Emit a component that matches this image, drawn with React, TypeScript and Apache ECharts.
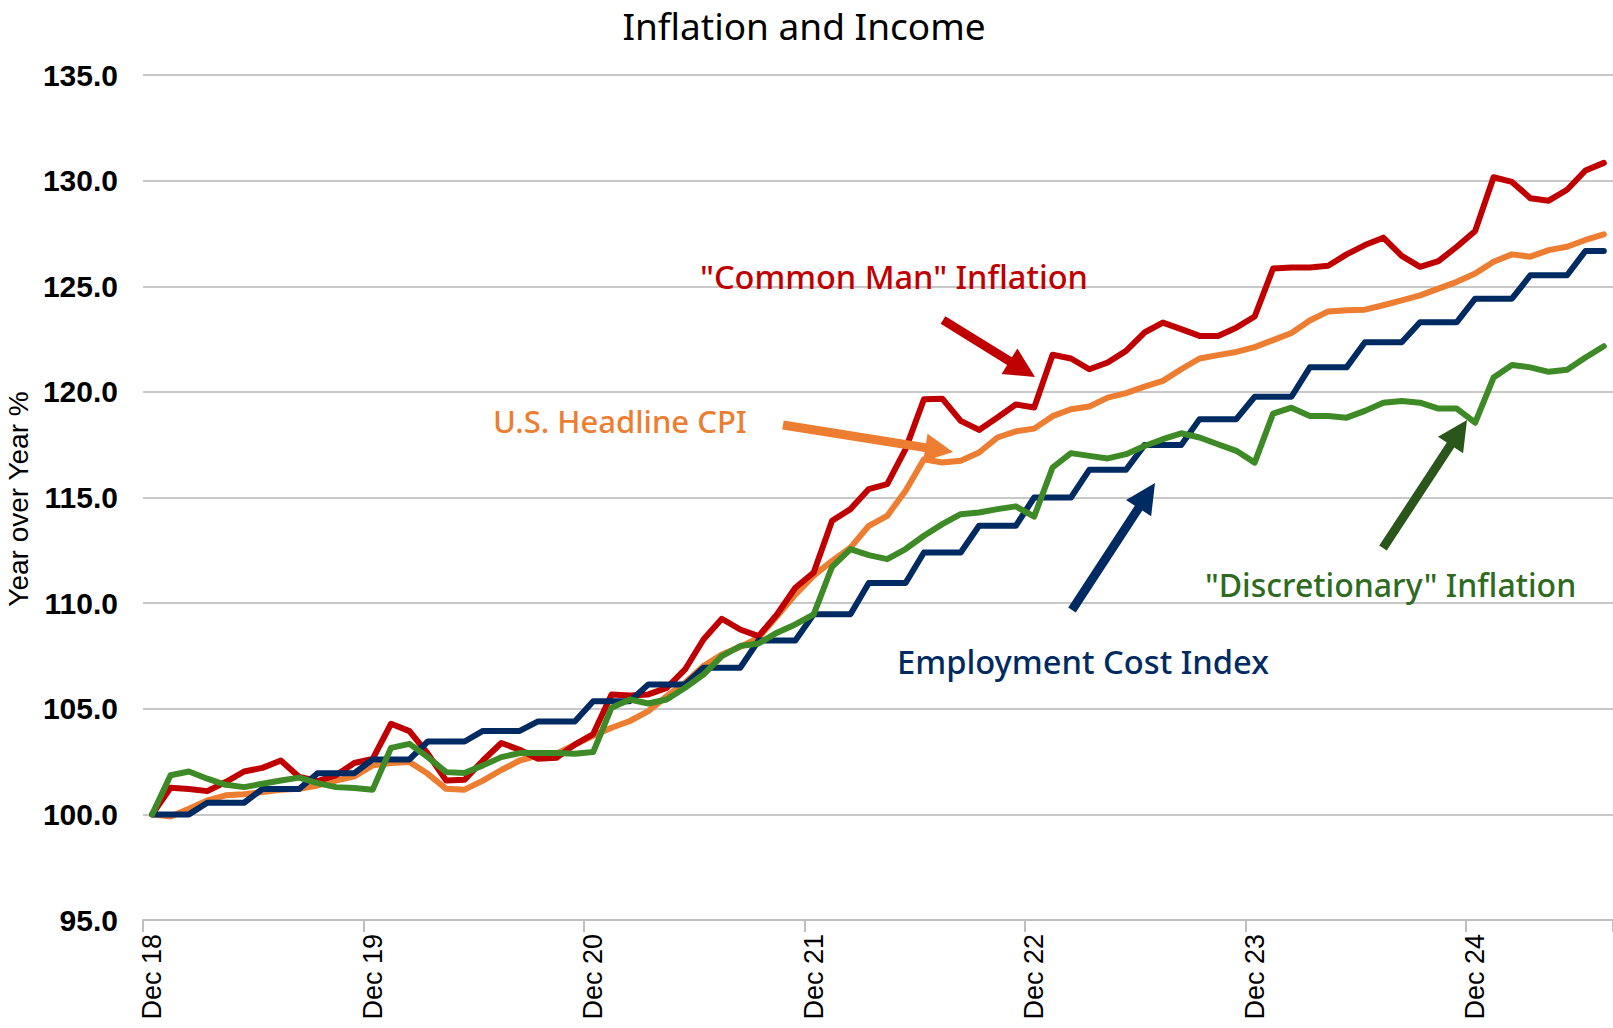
import React, { useEffect, useRef } from "react";
import * as echarts from "echarts";

// ---------- DATA ----------
const MONTH_NAMES = ["Jan", "Feb", "Mar", "Apr", "May", "Jun", "Jul", "Aug", "Sep", "Oct", "Nov", "Dec"];
// Dec 2018 .. Jul 2025, monthly
const START_YEAR = 2018;
const START_MONTH = 11; // Dec
const N_MONTHS = 80;
const categories: string[] = [];
for (let i = 0; i < N_MONTHS; i++) {
  const m = (START_MONTH + i) % 12;
  const y = START_YEAR + Math.floor((START_MONTH + i) / 12);
  categories.push(`${MONTH_NAMES[m]} ${String(y).slice(2)}`);
}

const yTicks = [95, 100, 105, 110, 115, 120, 125, 130, 135];

const commonMan = [
  100.0, 101.26, 101.2, 101.1, 101.53, 102.03, 102.2, 102.55, 101.77, 101.58, 101.85, 102.43,
  102.63, 104.29, 103.94, 102.87, 101.6, 101.64, 102.55, 103.38, 103.06, 102.63, 102.68, 103.3,
  103.8, 105.68, 105.63, 105.68, 105.99, 106.86, 108.28, 109.26, 108.75, 108.44, 109.46, 110.73,
  111.45, 113.9, 114.45, 115.4, 115.63, 117.29, 119.65, 119.68, 118.63, 118.2, 118.79, 119.4,
  119.26, 121.76, 121.58, 121.07, 121.39, 121.94, 122.81, 123.28, 122.97, 122.65, 122.65, 123.04,
  123.57, 125.84, 125.89, 125.89, 125.97, 126.51, 126.95, 127.3, 126.44, 125.92, 126.19, 126.87,
  127.62, 130.16, 129.94, 129.17, 129.05, 129.57, 130.48, 130.84,
];

const headlineCPI = [
  100.0, 99.9, 100.27, 100.66, 100.9, 100.95, 101.06, 101.17, 101.21, 101.37, 101.6, 101.8,
  102.32, 102.43, 102.48, 101.92, 101.21, 101.17, 101.6, 102.1, 102.55, 102.79, 102.87, 103.3,
  103.72, 104.1, 104.42, 104.89, 105.6, 106.23, 107.02, 107.57, 107.93, 108.36, 109.38, 110.4,
  111.3, 112.0, 112.63, 113.66, 114.13, 115.32, 116.81, 116.66, 116.74, 117.13, 117.84, 118.13,
  118.26, 118.85, 119.18, 119.31, 119.73, 119.94, 120.25, 120.52, 121.07, 121.58, 121.74, 121.89,
  122.12, 122.45, 122.79, 123.38, 123.81, 123.86, 123.89, 124.1, 124.33, 124.57, 124.89, 125.21,
  125.6, 126.16, 126.51, 126.4, 126.71, 126.87, 127.19, 127.46,
];

const employmentCost = [
  100.0, 100.0, 100.0, 100.55, 100.55, 100.55, 101.2, 101.2, 101.2, 101.95, 101.95, 101.95,
  102.6, 102.6, 102.6, 103.45, 103.45, 103.45, 103.95, 103.95, 103.95, 104.4, 104.4, 104.4,
  105.36, 105.36, 105.36, 106.15, 106.15, 106.15, 106.94, 106.94, 106.94, 108.23, 108.23, 108.23,
  109.47, 109.47, 109.47, 110.95, 110.95, 110.95, 112.4, 112.4, 112.4, 113.66, 113.66, 113.66,
  115.0, 115.0, 115.0, 116.31, 116.31, 116.31, 117.48, 117.48, 117.48, 118.71, 118.71, 118.71,
  119.77, 119.77, 119.77, 121.16, 121.16, 121.16, 122.35, 122.35, 122.35, 123.3, 123.3, 123.3,
  124.41, 124.41, 124.41, 125.52, 125.52, 125.52, 126.67, 126.67,
];

const discretionary = [
  100.0, 101.85, 102.03, 101.69, 101.4, 101.29, 101.45, 101.6, 101.74, 101.48, 101.29, 101.25,
  101.17, 103.15, 103.34, 102.71, 102.0, 101.96, 102.32, 102.71, 102.9, 102.9, 102.9, 102.87,
  102.95, 105.05, 105.44, 105.25, 105.44, 105.99, 106.62, 107.49, 107.97, 108.09, 108.6, 108.99,
  109.47, 111.72, 112.56, 112.27, 112.08, 112.56, 113.19, 113.74, 114.21, 114.29, 114.45, 114.58,
  114.1, 116.42, 117.1, 116.97, 116.85, 117.05, 117.44, 117.76, 118.04, 117.84, 117.52, 117.21,
  116.65, 118.97, 119.25, 118.86, 118.86, 118.78, 119.1, 119.49, 119.57, 119.49, 119.21, 119.21,
  118.54, 120.68, 121.27, 121.16, 120.95, 121.05, 121.63, 122.16,
];

const seriesNames = ['"Common Man" Inflation', "U.S. Headline CPI", "Employment Cost Index", '"Discretionary" Inflation'];

// ---------- STYLE ----------
const RED = "#C00000";
const ORANGE = "#ED7D31";
const NAVY = "#002B62";
const GREEN = "#3E8A27";
const GREEN_TEXT = "#2F6B1F";
const GREEN_ARROW = "#2B561B";
const ANN_FONT = "'Noto Sans', 'Open Sans', sans-serif";

function arrowPolygon(x1: number, y1: number, x2: number, y2: number, shaft: number, headLen: number, headHalf: number) {
  const dx = x2 - x1;
  const dy = y2 - y1;
  const len = Math.hypot(dx, dy);
  const ux = dx / len;
  const uy = dy / len;
  const px = -uy;
  const py = ux;
  const bx = x2 - ux * headLen;
  const by = y2 - uy * headLen;
  const s = shaft / 2;
  return [
    [x1 + px * s, y1 + py * s],
    [bx + px * s, by + py * s],
    [bx + px * headHalf, by + py * headHalf],
    [x2, y2],
    [bx - px * headHalf, by - py * headHalf],
    [bx - px * s, by - py * s],
    [x1 - px * s, y1 - py * s],
  ];
}

function textEl(text: string, x: number, y: number, color: string, size: number, align = "left", extra: any = {}) {
  return {
    type: "text",
    x,
    y,
    z: 100,
    ...extra,
    style: {
      text,
      fill: color,
      fontSize: size,
      fontFamily: ANN_FONT,
      fontWeight: 500,
      align,
      textAlign: align,
      verticalAlign: "middle",
      textVerticalAlign: "middle",
    },
  };
}

export default function App() {
  const ref = useRef<HTMLDivElement>(null);

  useEffect(() => {
    if (!ref.current) return;
    const chart = echarts.init(ref.current, undefined, { renderer: "svg" });

    const arrows = [
      { pts: arrowPolygon(943, 320, 1035, 377, 9, 30, 15), color: RED },
      { pts: arrowPolygon(783, 425, 953, 452, 9, 28, 14), color: ORANGE },
      { pts: arrowPolygon(1072, 610, 1155, 483, 9, 30, 15), color: NAVY },
      { pts: arrowPolygon(1383, 548, 1467, 420, 9, 30, 15), color: GREEN_ARROW },
    ];

    const mkLine = (name: string, data: number[], color: string, z: number) => ({
      name,
      type: "line",
      data,
      symbol: "none",
      smooth: false,
      z,
      lineStyle: { color, width: 6, cap: "round", join: "round" },
      itemStyle: { color },
    });

    chart.setOption({
      animation: false,
      backgroundColor: "#ffffff",
      grid: { left: 143, right: 0, top: 75, bottom: 108, containLabel: false },
      xAxis: {
        type: "category",
        data: categories,
        boundaryGap: true,
        axisLine: { show: true, lineStyle: { color: "#BFBFBF", width: 2 } },
        axisTick: {
          show: true,
          interval: (idx: number) => idx % 12 === 0,
          length: 12,
          lineStyle: { color: "#BFBFBF", width: 2 },
        },
        axisLabel: {
          interval: (idx: number) => idx % 12 === 0,
          rotate: 90,
          margin: 14,
          color: "#000",
          fontSize: 27,
          fontFamily: "'Liberation Sans', Arial, sans-serif",
        },
        splitLine: { show: false },
      },
      yAxis: {
        type: "value",
        min: yTicks[0],
        max: yTicks[yTicks.length - 1],
        interval: 5,
        axisLine: { show: false },
        axisTick: { show: false },
        axisLabel: {
          formatter: (v: number) => v.toFixed(1),
          margin: 25,
          color: "#000",
          fontSize: 30,
          fontWeight: "bold",
          fontFamily: "'Liberation Sans', Arial, sans-serif",
        },
        splitLine: { show: true, lineStyle: { color: "#C8C8C8", width: 2 } },
      },
      series: [
        mkLine(seriesNames[1], headlineCPI, ORANGE, 2),
        mkLine(seriesNames[0], commonMan, RED, 3),
        mkLine(seriesNames[2], employmentCost, NAVY, 4),
        mkLine(seriesNames[3], discretionary, GREEN, 5),
      ],
      graphic: [
        {
          type: "text",
          x: 804,
          y: 25,
          z: 100,
          style: {
            text: "Inflation and Income",
            fill: "#000",
            fontSize: 37,
            fontFamily: ANN_FONT,
            align: "center",
            textAlign: "center",
            verticalAlign: "middle",
            textVerticalAlign: "middle",
          },
        },
        {
          type: "text",
          x: 18,
          y: 499,
          rotation: Math.PI / 2,
          z: 100,
          style: {
            text: "Year over Year %",
            fill: "#000",
            fontSize: 28,
            fontFamily: "'Liberation Sans Narrow', 'Liberation Sans', Arial, sans-serif",
            align: "center",
            textAlign: "center",
            verticalAlign: "middle",
            textVerticalAlign: "middle",
          },
        },
        textEl(seriesNames[0], 700, 276, RED, 32.5),
        textEl(seriesNames[1], 493, 421, ORANGE, 31),
        textEl(seriesNames[2], 897, 661, NAVY, 32.7),
        textEl(seriesNames[3], 1205, 584, GREEN_TEXT, 32),
        ...arrows.map((a) => ({
          type: "polygon",
          z: 90,
          shape: { points: a.pts },
          style: { fill: a.color },
        })),
      ],
    });

    return () => {
      chart.dispose();
    };
  }, []);

  return (
    <div
      ref={ref}
      style={{ position: "fixed", left: 0, top: 0, width: 1613, height: 1028, background: "#fff" }}
    />
  );
}
